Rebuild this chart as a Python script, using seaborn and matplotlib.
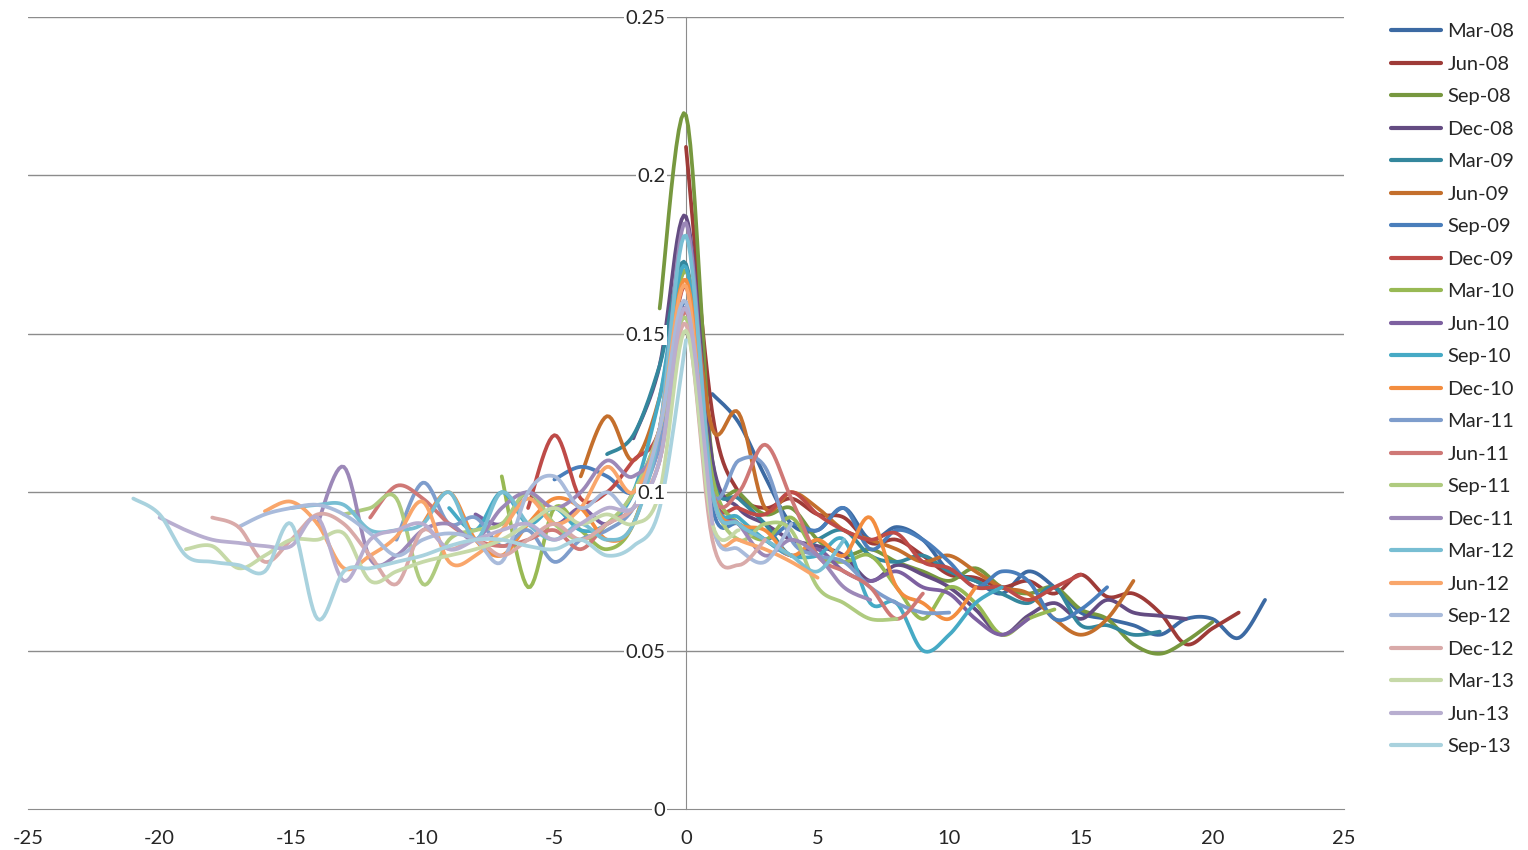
import numpy as np
import pandas as pd
import matplotlib
matplotlib.use("Agg")
import matplotlib.pyplot as plt
import seaborn as sns

# quarter labels and the first x of each window (windows are 22 points long)
labels = ["Mar-08", "Jun-08", "Sep-08", "Dec-08", "Mar-09", "Jun-09", "Sep-09", "Dec-09",
          "Mar-10", "Jun-10", "Sep-10", "Dec-10", "Mar-11", "Jun-11", "Sep-11", "Dec-11",
          "Mar-12", "Jun-12", "Sep-12", "Dec-12", "Mar-13", "Jun-13", "Sep-13"]
starts = [1, 0, -1, -2, -3, -4, -5, -6, -7, -8, -9, -10, -11, -12, -13, -14,
          -15, -16, -17, -18, -19, -20, -21]

colors = ["#3C6AA3", "#9E3B38", "#77983F", "#644C82", "#34879D", "#C46F2C",
          "#4A7EBB", "#BE4B48", "#98B954", "#7D60A0", "#46AAC5", "#F38D3F",
          "#7E9DCC", "#CF7876", "#AFCB7F", "#9C88B8", "#78BED3", "#F9A66B",
          "#A9BBDB", "#D9AAA9", "#C6D9A8", "#B8AED0", "#A9D2DE"]

mar08 = [0.131, 0.122, 0.105, 0.090, 0.088, 0.095, 0.085, 0.089, 0.085, 0.075, 0.072,
         0.068, 0.075, 0.070, 0.062, 0.060, 0.058, 0.055, 0.060, 0.060, 0.054, 0.066]
jun08 = [0.209, 0.125, 0.100, 0.095, 0.098, 0.093, 0.092, 0.084, 0.085, 0.080, 0.074,
         0.073, 0.070, 0.072, 0.068, 0.074, 0.067, 0.068, 0.062, 0.052, 0.057, 0.062]
sep08 = [0.158, 0.219, 0.110, 0.100, 0.093, 0.095, 0.085, 0.080, 0.082, 0.078, 0.075,
         0.072, 0.076, 0.070, 0.068, 0.070, 0.063, 0.060, 0.052, 0.049, 0.053, 0.059]
dec08 = [0.117, 0.140, 0.187, 0.110, 0.095, 0.090, 0.085, 0.083, 0.080, 0.072, 0.077,
         0.074, 0.070, 0.063, 0.055, 0.061, 0.065, 0.060, 0.066, 0.062, 0.061, 0.060]
mar09 = [0.112, 0.118, 0.140, 0.172, 0.105, 0.098, 0.090, 0.080, 0.085, 0.088, 0.080,
         0.078, 0.080, 0.075, 0.072, 0.068, 0.065, 0.070, 0.058, 0.058, 0.055, 0.056]
jun09 = [0.105, 0.124, 0.110, 0.130, 0.170, 0.120, 0.125, 0.095, 0.100, 0.095, 0.088,
         0.085, 0.082, 0.078, 0.080, 0.075, 0.070, 0.068, 0.060, 0.055, 0.060, 0.072]
sep09 = [0.104, 0.108, 0.105, 0.100, 0.115, 0.160, 0.095, 0.090, 0.085, 0.090, 0.088,
         0.095, 0.082, 0.088, 0.085, 0.078, 0.070, 0.075, 0.072, 0.060, 0.063, 0.070]
dec09 = [0.095, 0.118, 0.098, 0.100, 0.110, 0.120, 0.165, 0.100, 0.095, 0.093, 0.100,
         0.093, 0.088, 0.085, 0.087, 0.078, 0.076, 0.070, 0.070, 0.066, 0.070, 0.074]
mar10 = [0.105, 0.070, 0.095, 0.088, 0.082, 0.090, 0.120, 0.170, 0.105, 0.090, 0.085,
         0.092, 0.080, 0.078, 0.080, 0.070, 0.060, 0.070, 0.065, 0.055, 0.060, 0.063]
jun10 = [0.093, 0.090, 0.100, 0.090, 0.095, 0.090, 0.100, 0.120, 0.158, 0.100, 0.090,
         0.085, 0.080, 0.082, 0.075, 0.072, 0.075, 0.070, 0.068, 0.060, 0.055, 0.060]
sep10 = [0.095, 0.088, 0.100, 0.090, 0.095, 0.088, 0.090, 0.100, 0.130, 0.171, 0.100,
         0.092, 0.085, 0.080, 0.080, 0.085, 0.065, 0.065, 0.050, 0.055, 0.065, 0.070]
dec10 = [0.090, 0.100, 0.085, 0.080, 0.090, 0.098, 0.095, 0.085, 0.090, 0.120, 0.167,
         0.100, 0.090, 0.088, 0.080, 0.085, 0.080, 0.092, 0.070, 0.065, 0.060, 0.070]
mar11 = [0.085, 0.103, 0.090, 0.092, 0.083, 0.088, 0.078, 0.085, 0.088, 0.095, 0.115,
         0.158, 0.100, 0.110, 0.108, 0.085, 0.080, 0.078, 0.070, 0.065, 0.062, 0.062]
jun11 = [0.092, 0.102, 0.098, 0.090, 0.085, 0.083, 0.085, 0.088, 0.082, 0.090, 0.095,
         0.110, 0.157, 0.100, 0.100, 0.115, 0.098, 0.080, 0.075, 0.070, 0.060, 0.068]
sep11 = [0.093, 0.095, 0.098, 0.071, 0.085, 0.088, 0.090, 0.100, 0.090, 0.085, 0.090,
         0.100, 0.120, 0.155, 0.100, 0.085, 0.090, 0.088, 0.070, 0.065, 0.060, 0.060]
dec11 = [0.090, 0.108, 0.079, 0.080, 0.088, 0.090, 0.085, 0.095, 0.100, 0.095, 0.100,
         0.110, 0.105, 0.120, 0.185, 0.100, 0.090, 0.080, 0.085, 0.080, 0.070, 0.066]
mar12 = [0.095, 0.096, 0.096, 0.088, 0.088, 0.090, 0.100, 0.085, 0.100, 0.090, 0.085,
         0.090, 0.085, 0.090, 0.120, 0.181, 0.100, 0.090, 0.085, 0.080, 0.075, 0.085]
jun12 = [0.094, 0.097, 0.090, 0.076, 0.080, 0.086, 0.097, 0.078, 0.080, 0.088, 0.098,
         0.090, 0.095, 0.108, 0.100, 0.120, 0.165, 0.090, 0.085, 0.082, 0.078, 0.073]
sep12 = [0.089, 0.093, 0.095, 0.096, 0.093, 0.087, 0.080, 0.085, 0.087, 0.085, 0.078,
         0.100, 0.105, 0.095, 0.100, 0.095, 0.120, 0.160, 0.090, 0.082, 0.078, 0.090]
dec12 = [0.092, 0.089, 0.078, 0.085, 0.093, 0.090, 0.080, 0.071, 0.088, 0.082, 0.085,
         0.080, 0.085, 0.090, 0.085, 0.090, 0.095, 0.110, 0.153, 0.085, 0.077, 0.085]
mar13 = [0.082, 0.083, 0.076, 0.080, 0.085, 0.085, 0.087, 0.072, 0.075, 0.078, 0.080,
         0.082, 0.085, 0.090, 0.095, 0.090, 0.093, 0.090, 0.100, 0.151, 0.090, 0.088]
jun13 = [0.092, 0.088, 0.085, 0.084, 0.083, 0.083, 0.092, 0.072, 0.085, 0.088, 0.090,
         0.082, 0.085, 0.088, 0.090, 0.085, 0.090, 0.095, 0.095, 0.110, 0.158, 0.090]
sep13 = [0.098, 0.093, 0.080, 0.078, 0.077, 0.075, 0.090, 0.060, 0.075, 0.076, 0.078,
         0.080, 0.083, 0.085, 0.085, 0.083, 0.082, 0.085, 0.080, 0.083, 0.095, 0.148]

series = [mar08, jun08, sep08, dec08, mar09, jun09, sep09, dec09, mar10, jun10, sep10,
          dec10, mar11, jun11, sep11, dec11, mar12, jun12, sep12, dec12, mar13, jun13, sep13]


def smooth(x, y, n=12):
    # Catmull-Rom curve through the points, like Excel's smoothed line
    x = np.asarray(x, float)
    y = np.asarray(y, float)
    px = np.concatenate([[x[0]], x, [x[-1]]])
    py = np.concatenate([[y[0]], y, [y[-1]]])
    t = np.linspace(0, 1, n, endpoint=False)
    xs, ys = [], []
    for i in range(1, len(px) - 2):
        for p, out in ((px, xs), (py, ys)):
            p0, p1, p2, p3 = p[i - 1], p[i], p[i + 1], p[i + 2]
            out.append(0.5 * (2 * p1 + (-p0 + p2) * t
                              + (2 * p0 - 5 * p1 + 4 * p2 - p3) * t ** 2
                              + (-p0 + 3 * p1 - 3 * p2 + p3) * t ** 3))
    xs.append([x[-1]])
    ys.append([y[-1]])
    return np.concatenate(xs), np.concatenate(ys)


rows = []
for lab, x0, vals in zip(labels, starts, series):
    xs, ys = smooth(np.arange(x0, x0 + len(vals)), vals)
    rows.append(pd.DataFrame({"x": xs, "y": ys, "series": lab}))
df = pd.concat(rows, ignore_index=True)

sns.set_style("white")
plt.rcParams["font.family"] = ["Lato", "DejaVu Sans"]
plt.rcParams["axes.unicode_minus"] = False

fig = plt.figure(figsize=(15.28, 8.5), dpi=100)
ax = fig.add_axes([28 / 1528, 41 / 850, 1316 / 1528, 792 / 850])

yticks = [0, 0.05, 0.1, 0.15, 0.2, 0.25]
for yv in yticks[1:]:
    ax.axhline(yv, color="#8c8c8c", linewidth=1.0, zorder=0.5)

sns.lineplot(data=df, x="x", y="y", hue="series", hue_order=labels,
             palette=dict(zip(labels, colors)), sort=False, estimator=None,
             linewidth=2.7, ax=ax)

ax.set_xlim(-25, 25)
ax.set_ylim(0, 0.25)
ax.set_xticks(np.arange(-25, 26, 5))
ax.set_yticks(yticks)
ax.set_yticklabels(["0", "0.05", "0.1", "0.15", "0.2", "0.25"])
ax.set_xlabel("")
ax.set_ylabel("")
ax.grid(False)

for side in ["top", "right"]:
    ax.spines[side].set_visible(False)
ax.spines["left"].set_position(("data", 0))
ax.spines["left"].set_color("#8c8c8c")
ax.spines["left"].set_zorder(0.6)
ax.spines["bottom"].set_color("#8c8c8c")
ax.tick_params(axis="x", direction="out", length=6, color="#8c8c8c", labelsize=14.5, pad=9)
ax.tick_params(axis="y", length=0, labelsize=14.5, pad=15)
ax.yaxis.set_zorder(5)
for lbl in ax.get_yticklabels():
    lbl.set_bbox(dict(facecolor="white", edgecolor="none", pad=1))

handles, labs = ax.get_legend_handles_labels()
ax.get_legend().remove()
leg = fig.legend(handles, labs, loc="upper left", bbox_to_anchor=(1383 / 1528, 1 - 15 / 850),
                 frameon=False, fontsize=14.5, handlelength=2.5, handletextpad=0.3,
                 labelspacing=0.765, borderaxespad=0)
for h in leg.get_lines():
    h.set_linewidth(3)

fig.savefig("out.png", dpi=100)
